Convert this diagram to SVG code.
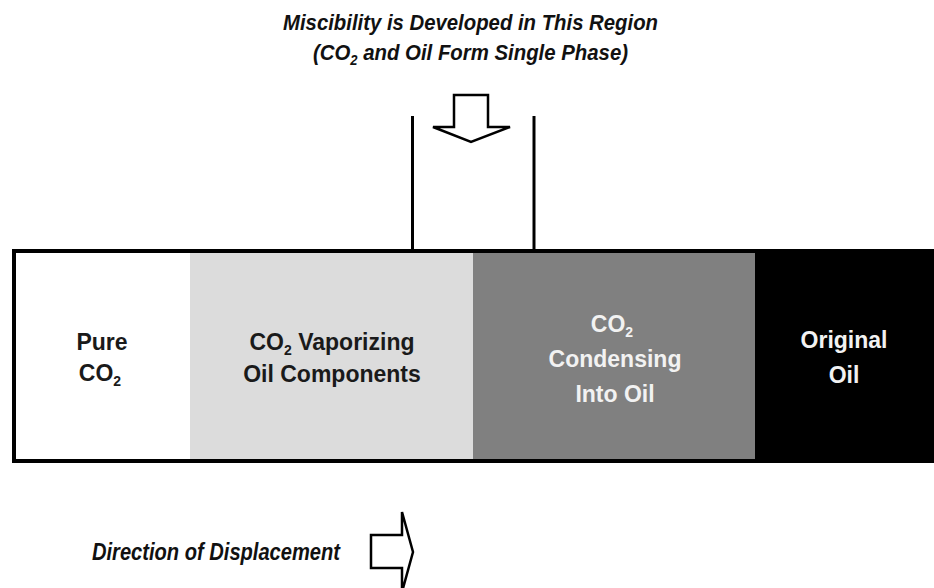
<svg xmlns="http://www.w3.org/2000/svg" width="934" height="588" viewBox="0 0 934 588">
  <style>
    .cap { font-family: "Liberation Sans", Arial, sans-serif; font-weight: bold; font-style: italic; fill: #111; }
    .lbl { font-family: "Liberation Sans", Arial, sans-serif; font-weight: bold; font-size: 23px; text-anchor: middle; }
    .dark { fill: #1a1a1a; }
    .light { fill: #f2f2f2; }
    .sub { font-size: 14px; }
    .line { stroke: #000; stroke-width: 3; fill: none; }
    .hollow { fill: #fff; stroke: #000; stroke-width: 2.5; stroke-linejoin: miter; }
  </style>

  <rect width="934" height="588" fill="#fff"/>

  <!-- caption above the column -->
  <g id="caption">
    <text class="cap" x="283" y="30" font-size="22" textLength="375" lengthAdjust="spacingAndGlyphs">Miscibility is Developed in This Region</text>
    <text class="cap" x="313" y="60" font-size="22" textLength="315" lengthAdjust="spacingAndGlyphs">(CO<tspan class="sub" dy="5">2</tspan><tspan dy="-5"> and Oil Form Single Phase)</tspan></text>
  </g>

  <!-- displacement column zones -->
  <g id="zone-pure-co2">
    <rect x="14" y="251" width="176" height="210" fill="#fff"/>
    <text class="lbl dark" x="102" y="350">Pure</text>
    <text class="lbl dark" x="100" y="381">CO<tspan class="sub" dy="5">2</tspan></text>
  </g>
  <g id="zone-vaporizing">
    <rect x="190" y="251" width="283" height="210" fill="#dcdcdc"/>
    <text class="lbl dark" x="332" y="350">CO<tspan class="sub" dy="5">2</tspan><tspan dy="-5"> Vaporizing</tspan></text>
    <text class="lbl dark" x="332" y="382">Oil Components</text>
  </g>
  <g id="zone-condensing">
    <rect x="473" y="251" width="282" height="210" fill="#808080"/>
    <text class="lbl light" x="612" y="332">CO<tspan class="sub" dy="5">2</tspan></text>
    <text class="lbl light" x="615" y="367">Condensing</text>
    <text class="lbl light" x="615" y="402">Into Oil</text>
  </g>
  <g id="zone-original-oil">
    <rect x="755" y="251" width="185" height="210" fill="#000"/>
    <text class="lbl light" x="844" y="348">Original</text>
    <text class="lbl light" x="844" y="383">Oil</text>
  </g>
  <rect id="column-outline" x="14" y="251" width="930" height="210" fill="none" stroke="#000" stroke-width="4"/>

  <!-- miscibility bracket and arrows -->
  <g id="connectors">
    <line class="line" x1="412.5" y1="116" x2="412.5" y2="251"/>
    <line class="line" x1="534" y1="116" x2="534" y2="251"/>
    <polygon class="hollow" points="454,95 488,95 488,127 510,127 471,142 433,127 454,127"/>
    <polygon class="hollow" points="371,535 402,535 402,512 413,552 402,592 402,568 371,568"/>
  </g>

  <g id="direction-label">
    <text class="cap" x="92" y="560" font-size="24" textLength="248" lengthAdjust="spacingAndGlyphs">Direction of Displacement</text>
  </g>
</svg>
